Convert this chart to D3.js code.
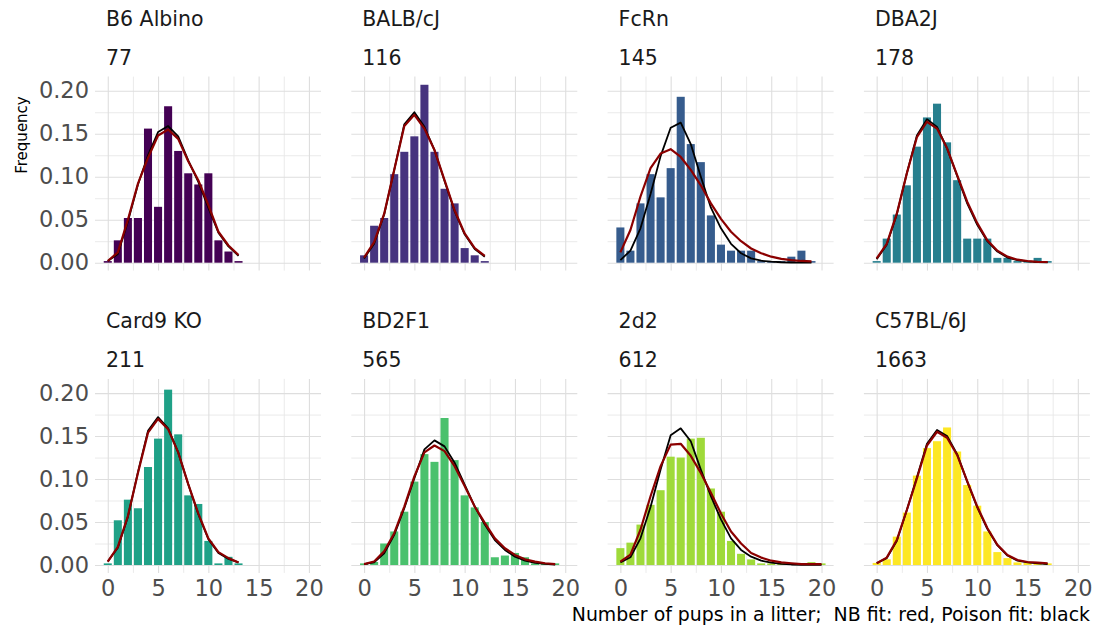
<!DOCTYPE html>
<html>
<head>
<meta charset="utf-8">
<script src="https://cdn.jsdelivr.net/npm/d3@7"></script>
<style>
body { margin: 0; background: #fff; }
svg { display: block; font-family: "DejaVu Sans", sans-serif; }
</style>
</head>
<body>
<svg></svg>
<script>
// strains, litter counts and viridis colours
const strains = ["B6 Albino", "BALB/cJ", "FcRn", "DBA2J", "Card9 KO", "BD2F1", "2d2", "C57BL/6J"];
const litters = [77, 116, 145, 178, 211, 565, 612, 1663];
const colors = ["#440154", "#46337E", "#365C8D", "#277F8E", "#1FA187", "#4AC16D", "#9FDA3A", "#FDE725"];

// observed frequency of litter size, index = number of pups (0, 1, 2, ...)
const freqB6 = [0, 0.026, 0.052, 0.052, 0.156, 0.065, 0.182, 0.130, 0.104, 0.091, 0.104, 0.026, 0.013, 0];
const freqBALB = [0.0086, 0.043, 0.052, 0.103, 0.129, 0.147, 0.207, 0.129, 0.086, 0.069, 0.017, 0.0086, 0];
const freqFcRn = [0.041, 0.014, 0.069, 0.103, 0.076, 0.110, 0.193, 0.138, 0.117, 0.055, 0.021, 0.014, 0.014, 0.014, 0, 0, 0, 0.007, 0.014, 0];
const freqDBA = [0, 0.028, 0.056, 0.090, 0.135, 0.169, 0.185, 0.140, 0.096, 0.028, 0.028, 0.028, 0.0056, 0.0056, 0, 0, 0.0056, 0];
const freqCard9 = [0, 0.052, 0.076, 0.066, 0.114, 0.147, 0.204, 0.152, 0.081, 0.071, 0.028, 0, 0.0095, 0];
const freqBD2F1 = [0.0018, 0.0035, 0.025, 0.039, 0.062, 0.097, 0.129, 0.120, 0.171, 0.122, 0.081, 0.067, 0.050, 0.009, 0.011, 0.014, 0.009, 0.0018, 0, 0];
const freq2d2 = [0.0196, 0.026, 0.047, 0.070, 0.087, 0.126, 0.125, 0.147, 0.148, 0.089, 0.062, 0.028, 0.013, 0.0065, 0.0016, 0.0016, 0.0016, 0, 0, 0.0033, 0];
const freqC57 = [0.0024, 0.0066, 0.033, 0.061, 0.104, 0.136, 0.144, 0.160, 0.132, 0.093, 0.069, 0.039, 0.015, 0.008, 0.003, 0.0024, 0.0024, 0.0006];

// negative binomial fit (red)
const nbB6 = [0.002, 0.012, 0.050, 0.092, 0.122, 0.148, 0.155, 0.144, 0.118, 0.096, 0.067, 0.036, 0.020, 0.009];
const nbBALB = [0.006, 0.024, 0.057, 0.108, 0.159, 0.172, 0.156, 0.131, 0.096, 0.061, 0.034, 0.017, 0.008];
const nbFcRn = [0.012, 0.038, 0.077, 0.110, 0.127, 0.132, 0.123, 0.108, 0.090, 0.069, 0.051, 0.036, 0.025, 0.0165, 0.011, 0.007, 0.0045, 0.003, 0.002, 0.0015];
const nbDBA = [0.005, 0.022, 0.057, 0.104, 0.146, 0.164, 0.156, 0.133, 0.102, 0.071, 0.046, 0.026, 0.014, 0.007, 0.0035, 0.002, 0.001, 0.0008];
const nbCard9 = [0.004, 0.021, 0.057, 0.107, 0.154, 0.170, 0.158, 0.131, 0.094, 0.060, 0.031, 0.015, 0.008, 0.003];
const nbBD2F1 = [0.001, 0.004, 0.016, 0.037, 0.068, 0.103, 0.131, 0.139, 0.1325, 0.115, 0.092, 0.068, 0.049, 0.031, 0.0195, 0.0117, 0.0066, 0.0039, 0.002, 0.001];
const nb2d2 = [0.004, 0.012, 0.041, 0.080, 0.115, 0.140, 0.141, 0.127, 0.107, 0.084, 0.060, 0.039, 0.025, 0.014, 0.0086, 0.005, 0.003, 0.002, 0.001, 0.001, 0.001];
const nbC57 = [0.002, 0.0086, 0.029, 0.064, 0.1006, 0.139, 0.155, 0.148, 0.128, 0.0975, 0.068, 0.043, 0.0234, 0.0117, 0.0058, 0.0035, 0.0027, 0.002];

// poisson fit (black)
const poisB6 = [0.002, 0.010, 0.048, 0.091, 0.125, 0.152, 0.159, 0.147, 0.119, 0.094, 0.064, 0.035, 0.019, 0.008];
const poisBALB = [0.005, 0.022, 0.056, 0.108, 0.161, 0.175, 0.158, 0.131, 0.095, 0.060, 0.033, 0.016, 0.007];
const poisFcRn = [0.003, 0.014, 0.040, 0.080, 0.124, 0.157, 0.163, 0.138, 0.100, 0.064, 0.040, 0.022, 0.011, 0.005, 0.0023, 0.0012, 0.0005, 0.0002, 0.0001, 0];
const poisDBA = [0.004, 0.021, 0.056, 0.104, 0.148, 0.167, 0.158, 0.133, 0.101, 0.069, 0.044, 0.025, 0.013, 0.006, 0.003, 0.0015, 0.0007, 0.0003];
const poisCard9 = [0.004, 0.020, 0.056, 0.108, 0.156, 0.172, 0.159, 0.131, 0.094, 0.059, 0.030, 0.014, 0.007, 0.003];
const poisBD2F1 = [0.001, 0.003, 0.0136, 0.035, 0.066, 0.101, 0.1345, 0.145, 0.138, 0.119, 0.0936, 0.068, 0.047, 0.029, 0.0175, 0.0097, 0.005, 0.0025, 0.0012, 0.0005];
const pois2d2 = [0.003, 0.009, 0.031, 0.0675, 0.111, 0.151, 0.159, 0.144, 0.111, 0.080, 0.053, 0.031, 0.0175, 0.0097, 0.005, 0.0027, 0.0013, 0.0006, 0.0003, 0.0001, 0.0001];
const poisC57 = [0.002, 0.008, 0.028, 0.064, 0.102, 0.141, 0.157, 0.150, 0.129, 0.097, 0.067, 0.042, 0.023, 0.011, 0.005, 0.003, 0.002, 0.001];

const freqs = [freqB6, freqBALB, freqFcRn, freqDBA, freqCard9, freqBD2F1, freq2d2, freqC57];
const nbFits = [nbB6, nbBALB, nbFcRn, nbDBA, nbCard9, nbBD2F1, nb2d2, nbC57];
const poisFits = [poisB6, poisBALB, poisFcRn, poisDBA, poisCard9, poisBD2F1, pois2d2, poisC57];

const xMajor = [0, 5, 10, 15, 20];
const xMinor = [2.5, 7.5, 12.5, 17.5];
const yMajor = [0, 0.05, 0.10, 0.15, 0.20];
const yMinor = [0.025, 0.075, 0.125, 0.175];

//set dimensions
const width = 1096;
const height = 629;
const pw = 226, ph = 194;
const left0 = 95, colStep = 256.3;
const top0 = 76.6, rowStep = 302.3;

const svg = d3.select("svg")
    .attr("width", width)
    .attr("height", height);

const x = d3.scaleLinear().domain([-1.27, 21.2]).range([0, pw]);
const y = d3.scaleLinear().domain([-0.0092, 0.2165]).range([ph, 0]);

const line = d3.line()
    .x((d, i) => x(i))
    .y(d => y(d));

function grid(g, axis, values, color, w) {
    g.call(axis.tickValues(values).tickFormat(""));
    g.select(".domain").remove();
    g.selectAll(".tick line").attr("stroke", color).attr("stroke-width", w);
}

strains.forEach((name, k) => {
    const col = k % 4, row = Math.floor(k / 4);
    const px = left0 + col * colStep;
    const py = top0 + row * rowStep;
    const panel = svg.append("g").attr("transform", `translate(${px}, ${py})`);

    // grid lines
    grid(panel.append("g").attr("transform", `translate(0, ${ph})`),
        d3.axisBottom(x).tickSize(-ph), xMinor, "#e8e8e8", 0.9);
    grid(panel.append("g"), d3.axisLeft(y).tickSize(-pw).tickSizeOuter(0), yMinor, "#e8e8e8", 0.9);
    grid(panel.append("g").attr("transform", `translate(0, ${ph})`),
        d3.axisBottom(x).tickSize(-ph), xMajor, "#dedede", 1.1);
    grid(panel.append("g"), d3.axisLeft(y).tickSize(-pw).tickSizeOuter(0), yMajor, "#dedede", 1.1);

    // bars
    const bw = x(0.8) - x(0);
    panel.append("g")
        .selectAll("rect")
        .data(freqs[k])
        .join("rect")
        .attr("x", (d, i) => x(i) - bw / 2)
        .attr("width", bw)
        .attr("y", d => y(0) - Math.max(y(0) - y(d), 1.6))
        .attr("height", d => Math.max(y(0) - y(d), 1.6))
        .attr("fill", colors[k]);

    // fits
    panel.append("path")
        .datum(poisFits[k])
        .attr("d", line)
        .attr("fill", "none")
        .attr("stroke", "#000")
        .attr("stroke-width", 1.8)
        .attr("stroke-linejoin", "round");
    panel.append("path")
        .datum(nbFits[k])
        .attr("d", line)
        .attr("fill", "none")
        .attr("stroke", "#8B0000")
        .attr("stroke-width", 2.2)
        .attr("stroke-linejoin", "round");

    // strip labels
    panel.append("text")
        .attr("x", 11)
        .attr("y", 26 - top0)
        .attr("font-size", 20.5)
        .attr("fill", "#1a1a1a")
        .text(name);
    panel.append("text")
        .attr("x", 11)
        .attr("y", 65 - top0)
        .attr("font-size", 20.5)
        .attr("fill", "#1a1a1a")
        .text(litters[k]);

    // y tick labels on first column
    if (col === 0) {
        const ya = panel.append("g")
            .call(d3.axisLeft(y).tickValues(yMajor).tickSize(0).tickPadding(6).tickFormat(d3.format(".2f")));
        ya.select(".domain").remove();
        ya.selectAll("text")
            .attr("font-size", 22.5)
            .attr("font-family", "DejaVu Sans")
            .attr("fill", "#4d4d4d");
    }
    // x tick labels on bottom row
    if (row === 1) {
        const xa = panel.append("g")
            .attr("transform", `translate(0, ${ph})`)
            .call(d3.axisBottom(x).tickValues(xMajor).tickSize(0).tickPadding(7));
        xa.select(".domain").remove();
        xa.selectAll("text")
            .attr("font-size", 22.5)
            .attr("font-family", "DejaVu Sans")
            .attr("fill", "#4d4d4d");
    }
});

// axis titles
svg.append("text")
    .attr("transform", "translate(27, 135) rotate(-90)")
    .attr("text-anchor", "middle")
    .attr("font-size", 15)
    .attr("fill", "#000")
    .text("Frequency");

svg.append("text")
    .attr("x", 1090)
    .attr("y", 621)
    .attr("text-anchor", "end")
    .attr("font-size", 18.9)
    .attr("fill", "#000")
    .style("white-space", "pre")
    .text("Number of pups in a litter;  NB fit: red, Poison fit: black");
</script>
</body>
</html>
